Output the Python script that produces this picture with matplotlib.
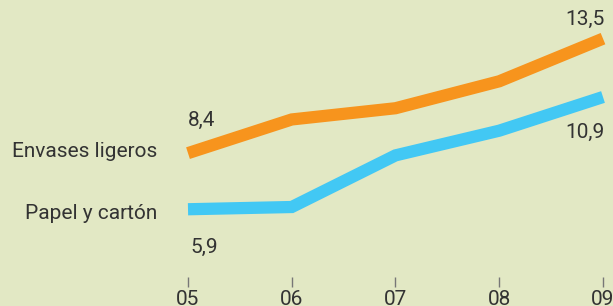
import matplotlib.pyplot as plt

# data
years = ['05', '06', '07', '08', '09']
envases = [8.4, 9.9, 10.4, 11.6, 13.5]
papel = [5.9, 6.0, 8.3, 9.4, 10.9]

bg = '#e2e8c4'
naranja = '#f7941d'
azul = '#42c8f4'
texto = '#333333'

plt.rcParams['font.family'] = ['Roboto', 'DejaVu Sans']

fig = plt.figure(figsize=(6.13, 3.06), dpi=100, facecolor=bg)
ax = fig.add_axes([0, 19 / 306, 1, 287 / 306])
ax.set_facecolor(bg)

x = list(range(len(years)))
ax.plot(x, envases, color=naranja, lw=8.8, solid_capstyle='butt', solid_joinstyle='miter')
ax.plot(x, papel, color=azul, lw=8.8, solid_capstyle='butt', solid_joinstyle='miter')

ax.set_xlim(-188 / 103.75, (613 - 188) / 103.75)
ax.set_ylim(2.437, 15.221)

for s in ax.spines.values():
    s.set_visible(False)
ax.set_yticks([])
ax.set_xticks(x)
ax.set_xticklabels(years, fontsize=15, color=texto)
ax.tick_params(axis='x', direction='in', length=7, width=1, color='#777777', pad=2)

# etiquetas de valores
ax.annotate('8,4', (0, envases[0]), xytext=(0, 33), textcoords='offset pixels',
            ha='left', va='center', fontsize=15, color=texto)
ax.annotate('13,5', (4, envases[-1]), xytext=(2, 19), textcoords='offset pixels',
            ha='right', va='center', fontsize=15, color=texto)
ax.annotate('10,9', (4, papel[-1]), xytext=(2, -35), textcoords='offset pixels',
            ha='right', va='center', fontsize=15, color=texto)
ax.annotate('5,9', (0, papel[0]), xytext=(2, -38), textcoords='offset pixels',
            ha='left', va='center', fontsize=15, color=texto)

# nombres de las series
ax.annotate('Envases ligeros', (0, envases[0]), xytext=(-31, 2), textcoords='offset pixels',
            ha='right', va='center', fontsize=15, color=texto)
ax.annotate('Papel y cartón', (0, papel[0]), xytext=(-31, -4), textcoords='offset pixels',
            ha='right', va='center', fontsize=15, color=texto)

fig.savefig('out.png', dpi=100, facecolor=bg)
